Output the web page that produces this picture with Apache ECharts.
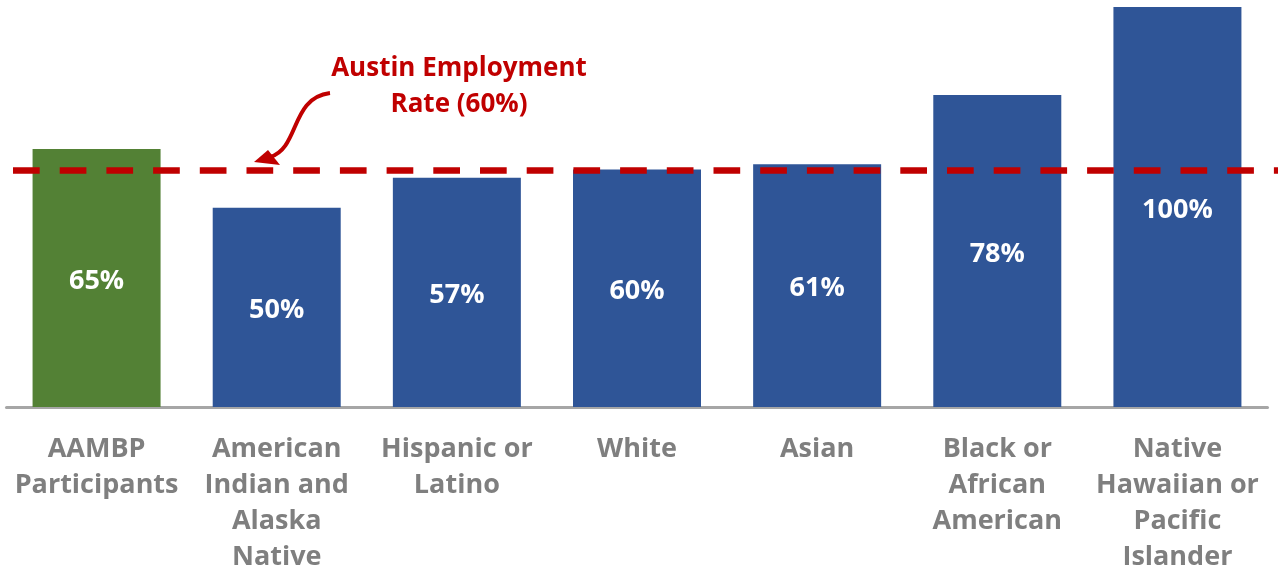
<!DOCTYPE html>
<html>
<head>
<meta charset="utf-8">
<script src="https://cdn.jsdelivr.net/npm/echarts@6/dist/echarts.min.js"></script>
<style>
html,body{margin:0;padding:0;background:#fff;}
#chart{width:1278px;height:570px;}
</style>
</head>
<body>
<div id="chart"></div>
<script>
var categories = [
  'AAMBP\nParticipants',
  'American\nIndian and\nAlaska\nNative',
  'Hispanic or\nLatino',
  'White',
  'Asian',
  'Black or\nAfrican\nAmerican',
  'Native\nHawaiian or\nPacific\nIslander'
];
var values = [64.5, 49.8, 57.3, 59.4, 60.7, 78, 100];
var valueLabels = ['65%', '50%', '57%', '60%', '61%', '78%', '100%'];
var barColors = ['#538135', '#2F5597', '#2F5597', '#2F5597', '#2F5597', '#2F5597', '#2F5597'];
var referenceValue = 59.2;
var referenceLabel = 'Austin Employment\nRate (60%)';

var chart = echarts.init(document.getElementById('chart'), null, {renderer: 'canvas'});
var FONT = '"Open Sans", "DejaVu Sans", sans-serif';

chart.setOption({
  animation: false,
  backgroundColor: '#ffffff',
  grid: {left: 6.5, right: 10.5, top: 7, bottom: 163, containLabel: false, outerBoundsMode: 'none'},
  xAxis: {
    type: 'category',
    data: categories,
    offset: 2,
    axisLine: {show: true, lineStyle: {color: '#A6A6A6', width: 3}},
    axisTick: {show: false},
    axisLabel: {
      interval: 0,
      margin: 22,
      color: '#7F7F7F',
      fontFamily: FONT,
      fontWeight: 'bold',
      fontSize: 27,
      lineHeight: 36
    }
  },
  yAxis: {
    type: 'value', min: 0, max: 100, show: false,
    splitLine: {show: false}
  },
  series: [{
    type: 'bar',
    barWidth: 128,
    data: values.map(function (v, i) {
      return {value: v, itemStyle: {color: barColors[i]}};
    }),
    label: {
      show: true,
      position: 'inside',
      offset: [0, 3],
      color: '#ffffff',
      fontFamily: FONT,
      fontWeight: 'bold',
      fontSize: 27,
      formatter: function (p) { return valueLabels[p.dataIndex]; }
    },
    markLine: {
      silent: true,
      symbol: ['none', 'none'],
      label: {show: false},
      lineStyle: {color: '#C00000', width: 6.5, type: [26.7, 20], cap: 'butt'},
      data: [[{x: 13, yAxis: referenceValue}, {x: 1290, yAxis: referenceValue}]]
    }
  }],
  graphic: [
    {
      type: 'text',
      x: 459, y: 51,
      style: {
        text: referenceLabel,
        align: 'center',
        verticalAlign: 'top',
        font: 'bold 26px ' + FONT,
        fill: '#C00000',
        lineHeight: 36
      }
    },
    {
      type: 'bezierCurve',
      shape: {x1: 330, y1: 93, cpx1: 290, cpy1: 98, cpx2: 300, cpy2: 148, x2: 270, y2: 157},
      style: {stroke: '#C00000', lineWidth: 4, fill: null}
    },
    {
      type: 'polygon',
      shape: {points: [[254, 162], [268, 150], [280, 165]]},
      style: {fill: '#C00000'}
    }
  ]
});
</script>
</body>
</html>
